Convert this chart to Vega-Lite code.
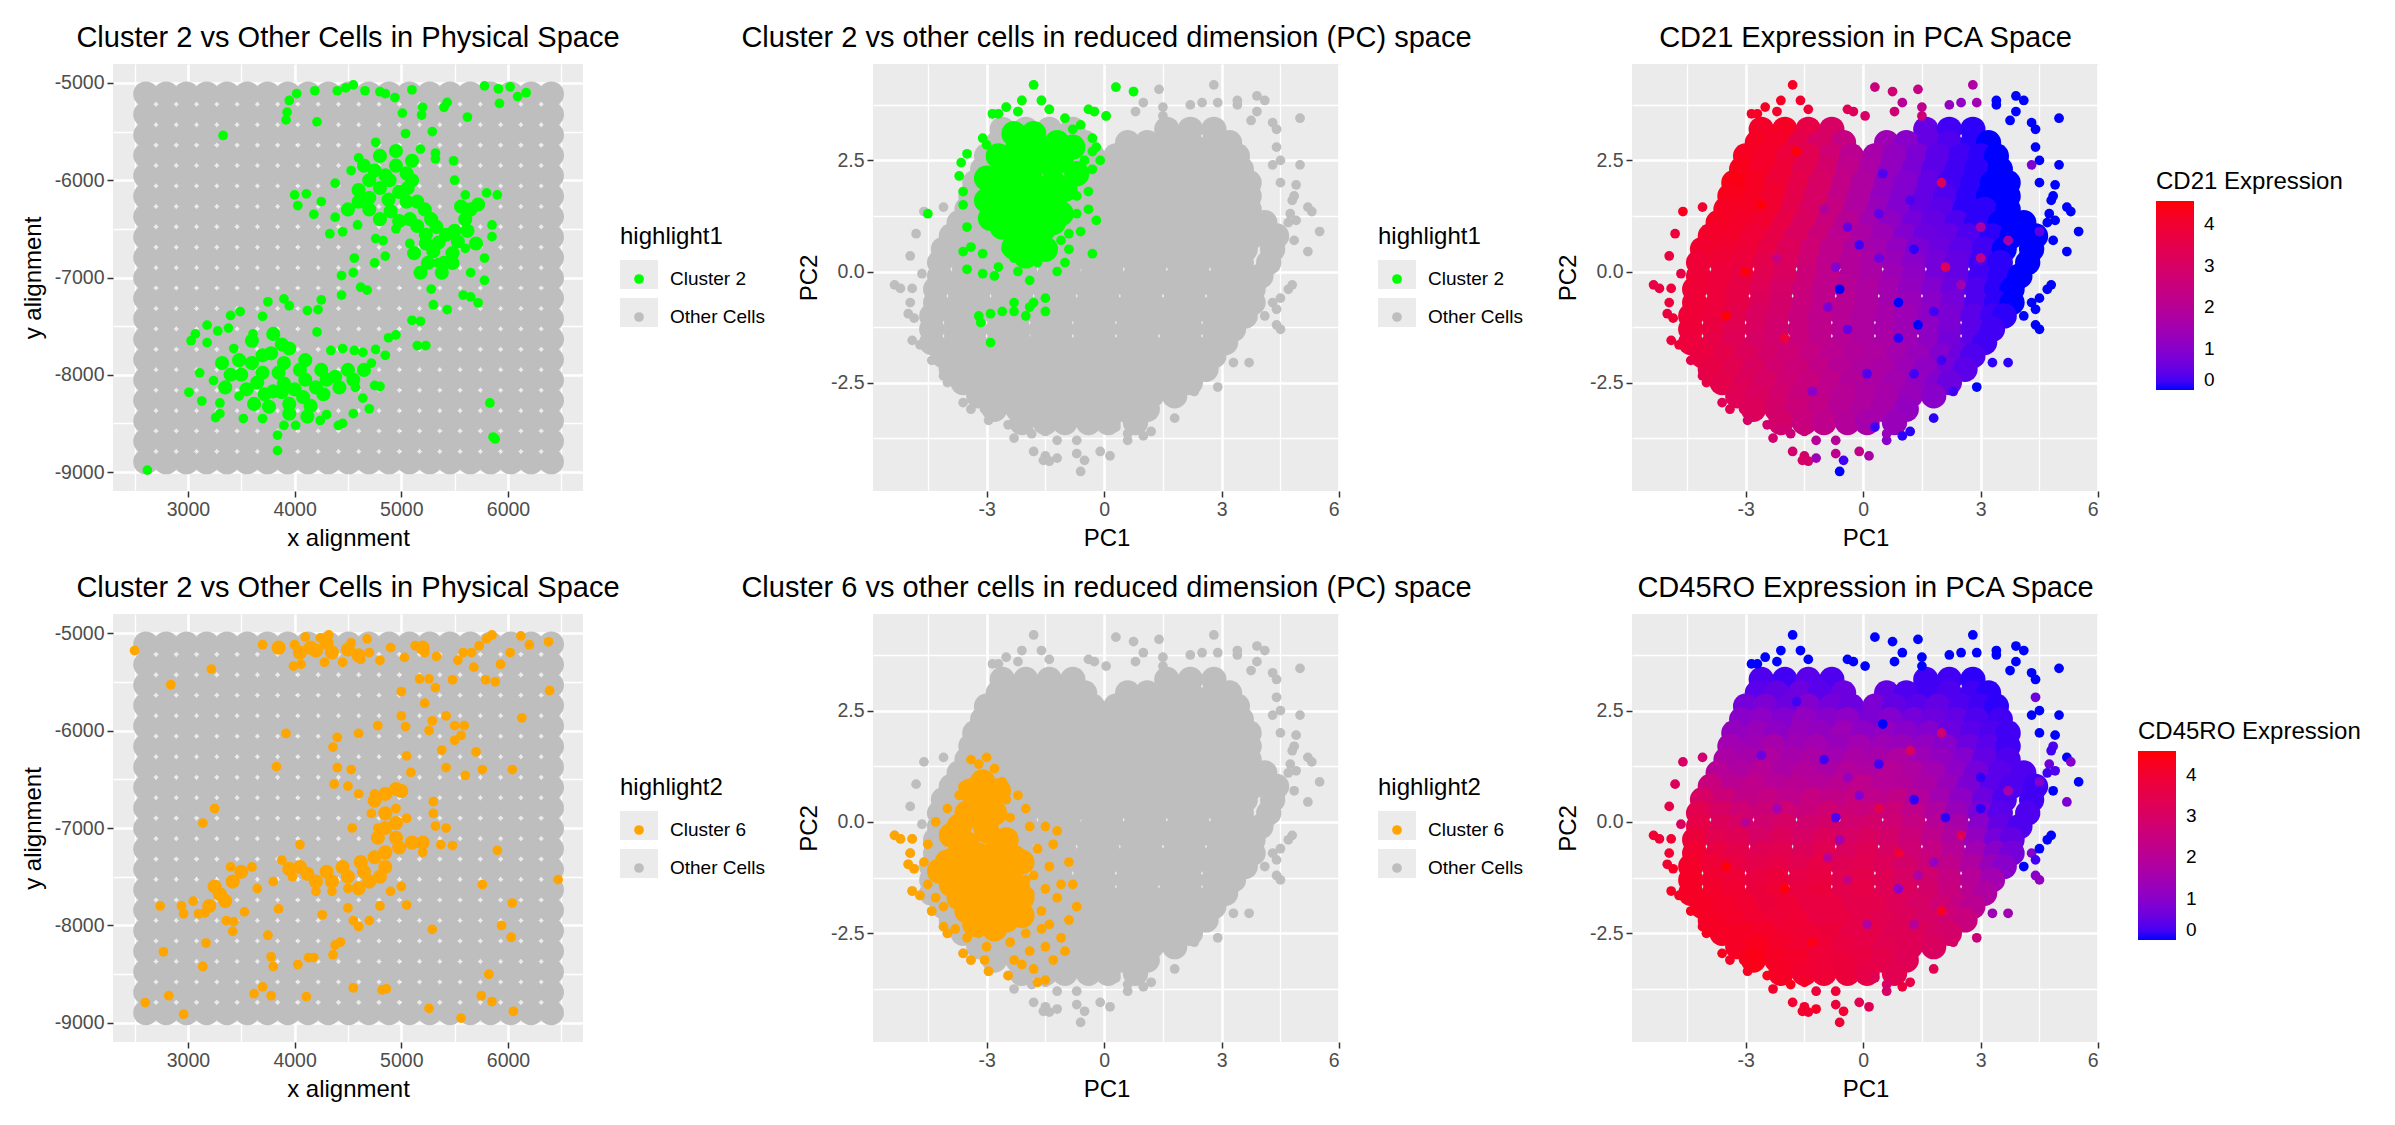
{"$schema":"https://vega.github.io/schema/vega-lite/v6.json","padding":{"left":21,"top":24,"right":0,"bottom":0},"background":"white",
"config":{"view":{"fill":"#ebebeb","stroke":null},"font":"Liberation Sans","title":{"font":"Liberation Sans","fontSize":29,"fontWeight":"normal","color":"black","anchor":"middle","offset":11},"axis":{"labelFont":"Liberation Sans","titleFont":"Liberation Sans","labelFontSize":19.5,"titleFontSize":24,"titleFontWeight":"normal","labelColor":"#4d4d4d","titleColor":"black","tickColor":"#333333","tickSize":6,"tickWidth":1.5,"domain":false,"gridColor":"white","labelPadding":3,"titlePadding":5},"legend":{"labelFont":"Liberation Sans","titleFont":"Liberation Sans","labelFontSize":19,"titleFontSize":24,"titleFontWeight":"normal","labelColor":"black","titleColor":"black","titleLimit":400}},
"datasets":{
"phys":[
{"x":2606,"y":-5114},{"x":2796,"y":-5114},{"x":2986,"y":-5114},{"x":3176,"y":-5114},{"x":3366,"y":-5114},{"x":3556,"y":-5114},{"x":3746,"y":-5114},{"x":3936,"y":-5114},{"x":4126,"y":-5114},{"x":4316,"y":-5114},{"x":4506,"y":-5114},{"x":4696,"y":-5114},{"x":4886,"y":-5114},{"x":5076,"y":-5114},{"x":5266,"y":-5114},{"x":5456,"y":-5114},{"x":5646,"y":-5114},{"x":5836,"y":-5114},{"x":6026,"y":-5114},{"x":6216,"y":-5114},{"x":6406,"y":-5114},
{"x":2606,"y":-5324},{"x":2796,"y":-5324},{"x":2986,"y":-5324},{"x":3176,"y":-5324},{"x":3366,"y":-5324},{"x":3556,"y":-5324},{"x":3746,"y":-5324},{"x":3936,"y":-5324},{"x":4126,"y":-5324},{"x":4316,"y":-5324},{"x":4506,"y":-5324},{"x":4696,"y":-5324},{"x":4886,"y":-5324},{"x":5076,"y":-5324},{"x":5266,"y":-5324},{"x":5456,"y":-5324},{"x":5646,"y":-5324},{"x":5836,"y":-5324},{"x":6026,"y":-5324},{"x":6216,"y":-5324},{"x":6406,"y":-5324},
{"x":2606,"y":-5534},{"x":2796,"y":-5534},{"x":2986,"y":-5534},{"x":3176,"y":-5534},{"x":3366,"y":-5534},{"x":3556,"y":-5534},{"x":3746,"y":-5534},{"x":3936,"y":-5534},{"x":4126,"y":-5534},{"x":4316,"y":-5534},{"x":4506,"y":-5534},{"x":4696,"y":-5534},{"x":4886,"y":-5534},{"x":5076,"y":-5534},{"x":5266,"y":-5534},{"x":5456,"y":-5534},{"x":5646,"y":-5534},{"x":5836,"y":-5534},{"x":6026,"y":-5534},{"x":6216,"y":-5534},{"x":6406,"y":-5534},
{"x":2606,"y":-5744},{"x":2796,"y":-5744},{"x":2986,"y":-5744},{"x":3176,"y":-5744},{"x":3366,"y":-5744},{"x":3556,"y":-5744},{"x":3746,"y":-5744},{"x":3936,"y":-5744},{"x":4126,"y":-5744},{"x":4316,"y":-5744},{"x":4506,"y":-5744},{"x":4696,"y":-5744},{"x":4886,"y":-5744},{"x":5076,"y":-5744},{"x":5266,"y":-5744},{"x":5456,"y":-5744},{"x":5646,"y":-5744},{"x":5836,"y":-5744},{"x":6026,"y":-5744},{"x":6216,"y":-5744},{"x":6406,"y":-5744},
{"x":2606,"y":-5954},{"x":2796,"y":-5954},{"x":2986,"y":-5954},{"x":3176,"y":-5954},{"x":3366,"y":-5954},{"x":3556,"y":-5954},{"x":3746,"y":-5954},{"x":3936,"y":-5954},{"x":4126,"y":-5954},{"x":4316,"y":-5954},{"x":4506,"y":-5954},{"x":4696,"y":-5954},{"x":4886,"y":-5954},{"x":5076,"y":-5954},{"x":5266,"y":-5954},{"x":5456,"y":-5954},{"x":5646,"y":-5954},{"x":5836,"y":-5954},{"x":6026,"y":-5954},{"x":6216,"y":-5954},{"x":6406,"y":-5954},
{"x":2606,"y":-6164},{"x":2796,"y":-6164},{"x":2986,"y":-6164},{"x":3176,"y":-6164},{"x":3366,"y":-6164},{"x":3556,"y":-6164},{"x":3746,"y":-6164},{"x":3936,"y":-6164},{"x":4126,"y":-6164},{"x":4316,"y":-6164},{"x":4506,"y":-6164},{"x":4696,"y":-6164},{"x":4886,"y":-6164},{"x":5076,"y":-6164},{"x":5266,"y":-6164},{"x":5456,"y":-6164},{"x":5646,"y":-6164},{"x":5836,"y":-6164},{"x":6026,"y":-6164},{"x":6216,"y":-6164},{"x":6406,"y":-6164},
{"x":2606,"y":-6374},{"x":2796,"y":-6374},{"x":2986,"y":-6374},{"x":3176,"y":-6374},{"x":3366,"y":-6374},{"x":3556,"y":-6374},{"x":3746,"y":-6374},{"x":3936,"y":-6374},{"x":4126,"y":-6374},{"x":4316,"y":-6374},{"x":4506,"y":-6374},{"x":4696,"y":-6374},{"x":4886,"y":-6374},{"x":5076,"y":-6374},{"x":5266,"y":-6374},{"x":5456,"y":-6374},{"x":5646,"y":-6374},{"x":5836,"y":-6374},{"x":6026,"y":-6374},{"x":6216,"y":-6374},{"x":6406,"y":-6374},
{"x":2606,"y":-6584},{"x":2796,"y":-6584},{"x":2986,"y":-6584},{"x":3176,"y":-6584},{"x":3366,"y":-6584},{"x":3556,"y":-6584},{"x":3746,"y":-6584},{"x":3936,"y":-6584},{"x":4126,"y":-6584},{"x":4316,"y":-6584},{"x":4506,"y":-6584},{"x":4696,"y":-6584},{"x":4886,"y":-6584},{"x":5076,"y":-6584},{"x":5266,"y":-6584},{"x":5456,"y":-6584},{"x":5646,"y":-6584},{"x":5836,"y":-6584},{"x":6026,"y":-6584},{"x":6216,"y":-6584},{"x":6406,"y":-6584},
{"x":2606,"y":-6794},{"x":2796,"y":-6794},{"x":2986,"y":-6794},{"x":3176,"y":-6794},{"x":3366,"y":-6794},{"x":3556,"y":-6794},{"x":3746,"y":-6794},{"x":3936,"y":-6794},{"x":4126,"y":-6794},{"x":4316,"y":-6794},{"x":4506,"y":-6794},{"x":4696,"y":-6794},{"x":4886,"y":-6794},{"x":5076,"y":-6794},{"x":5266,"y":-6794},{"x":5456,"y":-6794},{"x":5646,"y":-6794},{"x":5836,"y":-6794},{"x":6026,"y":-6794},{"x":6216,"y":-6794},{"x":6406,"y":-6794},
{"x":2606,"y":-7004},{"x":2796,"y":-7004},{"x":2986,"y":-7004},{"x":3176,"y":-7004},{"x":3366,"y":-7004},{"x":3556,"y":-7004},{"x":3746,"y":-7004},{"x":3936,"y":-7004},{"x":4126,"y":-7004},{"x":4316,"y":-7004},{"x":4506,"y":-7004},{"x":4696,"y":-7004},{"x":4886,"y":-7004},{"x":5076,"y":-7004},{"x":5266,"y":-7004},{"x":5456,"y":-7004},{"x":5646,"y":-7004},{"x":5836,"y":-7004},{"x":6026,"y":-7004},{"x":6216,"y":-7004},{"x":6406,"y":-7004},
{"x":2606,"y":-7214},{"x":2796,"y":-7214},{"x":2986,"y":-7214},{"x":3176,"y":-7214},{"x":3366,"y":-7214},{"x":3556,"y":-7214},{"x":3746,"y":-7214},{"x":3936,"y":-7214},{"x":4126,"y":-7214},{"x":4316,"y":-7214},{"x":4506,"y":-7214},{"x":4696,"y":-7214},{"x":4886,"y":-7214},{"x":5076,"y":-7214},{"x":5266,"y":-7214},{"x":5456,"y":-7214},{"x":5646,"y":-7214},{"x":5836,"y":-7214},{"x":6026,"y":-7214},{"x":6216,"y":-7214},{"x":6406,"y":-7214},
{"x":2606,"y":-7424},{"x":2796,"y":-7424},{"x":2986,"y":-7424},{"x":3176,"y":-7424},{"x":3366,"y":-7424},{"x":3556,"y":-7424},{"x":3746,"y":-7424},{"x":3936,"y":-7424},{"x":4126,"y":-7424},{"x":4316,"y":-7424},{"x":4506,"y":-7424},{"x":4696,"y":-7424},{"x":4886,"y":-7424},{"x":5076,"y":-7424},{"x":5266,"y":-7424},{"x":5456,"y":-7424},{"x":5646,"y":-7424},{"x":5836,"y":-7424},{"x":6026,"y":-7424},{"x":6216,"y":-7424},{"x":6406,"y":-7424},
{"x":2606,"y":-7634},{"x":2796,"y":-7634},{"x":2986,"y":-7634},{"x":3176,"y":-7634},{"x":3366,"y":-7634},{"x":3556,"y":-7634},{"x":3746,"y":-7634},{"x":3936,"y":-7634},{"x":4126,"y":-7634},{"x":4316,"y":-7634},{"x":4506,"y":-7634},{"x":4696,"y":-7634},{"x":4886,"y":-7634},{"x":5076,"y":-7634},{"x":5266,"y":-7634},{"x":5456,"y":-7634},{"x":5646,"y":-7634},{"x":5836,"y":-7634},{"x":6026,"y":-7634},{"x":6216,"y":-7634},{"x":6406,"y":-7634},
{"x":2606,"y":-7844},{"x":2796,"y":-7844},{"x":2986,"y":-7844},{"x":3176,"y":-7844},{"x":3366,"y":-7844},{"x":3556,"y":-7844},{"x":3746,"y":-7844},{"x":3936,"y":-7844},{"x":4126,"y":-7844},{"x":4316,"y":-7844},{"x":4506,"y":-7844},{"x":4696,"y":-7844},{"x":4886,"y":-7844},{"x":5076,"y":-7844},{"x":5266,"y":-7844},{"x":5456,"y":-7844},{"x":5646,"y":-7844},{"x":5836,"y":-7844},{"x":6026,"y":-7844},{"x":6216,"y":-7844},{"x":6406,"y":-7844},
{"x":2606,"y":-8054},{"x":2796,"y":-8054},{"x":2986,"y":-8054},{"x":3176,"y":-8054},{"x":3366,"y":-8054},{"x":3556,"y":-8054},{"x":3746,"y":-8054},{"x":3936,"y":-8054},{"x":4126,"y":-8054},{"x":4316,"y":-8054},{"x":4506,"y":-8054},{"x":4696,"y":-8054},{"x":4886,"y":-8054},{"x":5076,"y":-8054},{"x":5266,"y":-8054},{"x":5456,"y":-8054},{"x":5646,"y":-8054},{"x":5836,"y":-8054},{"x":6026,"y":-8054},{"x":6216,"y":-8054},{"x":6406,"y":-8054},
{"x":2606,"y":-8264},{"x":2796,"y":-8264},{"x":2986,"y":-8264},{"x":3176,"y":-8264},{"x":3366,"y":-8264},{"x":3556,"y":-8264},{"x":3746,"y":-8264},{"x":3936,"y":-8264},{"x":4126,"y":-8264},{"x":4316,"y":-8264},{"x":4506,"y":-8264},{"x":4696,"y":-8264},{"x":4886,"y":-8264},{"x":5076,"y":-8264},{"x":5266,"y":-8264},{"x":5456,"y":-8264},{"x":5646,"y":-8264},{"x":5836,"y":-8264},{"x":6026,"y":-8264},{"x":6216,"y":-8264},{"x":6406,"y":-8264},
{"x":2606,"y":-8474},{"x":2796,"y":-8474},{"x":2986,"y":-8474},{"x":3176,"y":-8474},{"x":3366,"y":-8474},{"x":3556,"y":-8474},{"x":3746,"y":-8474},{"x":3936,"y":-8474},{"x":4126,"y":-8474},{"x":4316,"y":-8474},{"x":4506,"y":-8474},{"x":4696,"y":-8474},{"x":4886,"y":-8474},{"x":5076,"y":-8474},{"x":5266,"y":-8474},{"x":5456,"y":-8474},{"x":5646,"y":-8474},{"x":5836,"y":-8474},{"x":6026,"y":-8474},{"x":6216,"y":-8474},{"x":6406,"y":-8474},
{"x":2606,"y":-8684},{"x":2796,"y":-8684},{"x":2986,"y":-8684},{"x":3176,"y":-8684},{"x":3366,"y":-8684},{"x":3556,"y":-8684},{"x":3746,"y":-8684},{"x":3936,"y":-8684},{"x":4126,"y":-8684},{"x":4316,"y":-8684},{"x":4506,"y":-8684},{"x":4696,"y":-8684},{"x":4886,"y":-8684},{"x":5076,"y":-8684},{"x":5266,"y":-8684},{"x":5456,"y":-8684},{"x":5646,"y":-8684},{"x":5836,"y":-8684},{"x":6026,"y":-8684},{"x":6216,"y":-8684},{"x":6406,"y":-8684},
{"x":2606,"y":-8894},{"x":2796,"y":-8894},{"x":2986,"y":-8894},{"x":3176,"y":-8894},{"x":3366,"y":-8894},{"x":3556,"y":-8894},{"x":3746,"y":-8894},{"x":3936,"y":-8894},{"x":4126,"y":-8894},{"x":4316,"y":-8894},{"x":4506,"y":-8894},{"x":4696,"y":-8894},{"x":4886,"y":-8894},{"x":5076,"y":-8894},{"x":5266,"y":-8894},{"x":5456,"y":-8894},{"x":5646,"y":-8894},{"x":5836,"y":-8894},{"x":6026,"y":-8894},{"x":6216,"y":-8894},{"x":6406,"y":-8894}],
"g2big":[{"x":4750,"y":-5900},{"x":4950,"y":-5850},{"x":5100,"y":-6000},{"x":4600,"y":-6100},{"x":4800,"y":-6080},{"x":4980,"y":-6120},{"x":5150,"y":-6220},{"x":4500,"y":-6300},{"x":4700,"y":-6300},{"x":4900,"y":-6320},{"x":5080,"y":-6400},{"x":5280,"y":-6400},{"x":5230,"y":-6560},{"x":5420,"y":-6560},{"x":5600,"y":-6400},{"x":5720,"y":-6250},{"x":5300,"y":-6730},{"x":5480,"y":-6750},{"x":5180,"y":-6950},{"x":5380,"y":-6950},{"x":5700,"y":-6650},
{"x":4850,"y":-5950},{"x":5050,"y":-5930},{"x":4700,"y":-6000},{"x":4890,"y":-6000},{"x":5060,"y":-6080},{"x":4700,"y":-6180},{"x":4880,"y":-6200},{"x":5050,"y":-6220},{"x":5220,"y":-6300},{"x":4600,"y":-6220},{"x":4800,"y":-6400},{"x":4980,"y":-6420},{"x":5150,"y":-6470},{"x":5330,"y":-6480},{"x":5500,"y":-6520},{"x":5350,"y":-6640},{"x":5530,"y":-6630},{"x":5620,"y":-6520},{"x":5650,"y":-6300},{"x":5560,"y":-6270},{"x":5230,"y":-6650},{"x":5400,"y":-6850},{"x":5250,"y":-6850},{"x":5120,"y":-6750},{"x":5480,"y":-6850},{"x":4650,"y":-5850},{"x":4800,"y":-5750},{"x":4950,"y":-5700},{"x":5100,"y":-5800},
{"x":3400,"y":-8000},{"x":3600,"y":-7880},{"x":3780,"y":-7780},{"x":3650,"y":-8080},{"x":3850,"y":-7980},{"x":4050,"y":-7950},{"x":4250,"y":-7950},{"x":3800,"y":-8170},{"x":4000,"y":-8150},{"x":4200,"y":-8130},{"x":4380,"y":-8020},{"x":3950,"y":-8300},{"x":4150,"y":-8320},{"x":3600,"y":-7650},{"x":3800,"y":-7580},{"x":4650,"y":-7950},
{"x":3500,"y":-8000},{"x":3700,"y":-7980},{"x":3900,"y":-7880},{"x":4100,"y":-7850},{"x":3550,"y":-8150},{"x":3720,"y":-8200},{"x":3900,"y":-8090},{"x":4100,"y":-8050},{"x":4300,"y":-8050},{"x":3880,"y":-8180},{"x":4080,"y":-8230},{"x":4270,"y":-8200},{"x":3700,"y":-7800},{"x":3480,"y":-7850},{"x":3880,"y":-7690},{"x":3950,"y":-8400},{"x":4120,"y":-8430},{"x":3760,"y":-8330},{"x":3620,"y":-8300},{"x":4500,"y":-7950},{"x":4420,"y":-8130},{"x":3350,"y":-8130},{"x":3320,"y":-7880},{"x":4550,"y":-8050},{"x":3950,"y":-7730}],
"g2":[{"x":3950,"y":-5180},{"x":3930,"y":-5300},{"x":3920,"y":-5380},{"x":4020,"y":-5110},{"x":4190,"y":-5080},{"x":4210,"y":-5400},{"x":4400,"y":-5080},{"x":4480,"y":-5050},{"x":4550,"y":-5020},{"x":4660,"y":-5080},{"x":4800,"y":-5090},{"x":4850,"y":-5110},{"x":4940,"y":-5150},{"x":5100,"y":-5070},{"x":5010,"y":-5310},{"x":5190,"y":-5330},{"x":5200,"y":-5250},{"x":5400,"y":-5250},{"x":5430,"y":-5200},{"x":5040,"y":-5520},{"x":5780,"y":-5030},{"x":5910,"y":-5060},{"x":6020,"y":-5040},{"x":6090,"y":-5140},{"x":6170,"y":-5100},{"x":5920,"y":-5210},{"x":5620,"y":-5350},{"x":5290,"y":-5500},
{"x":3330,"y":-5540},{"x":4760,"y":-5610},{"x":5180,"y":-5680},{"x":5320,"y":-5720},{"x":5490,"y":-5800},{"x":5320,"y":-5780},{"x":4600,"y":-5770},{"x":4530,"y":-5900},{"x":4380,"y":-6030},{"x":4000,"y":-6150},{"x":4110,"y":-6140},{"x":4030,"y":-6260},{"x":4180,"y":-6350},{"x":4250,"y":-6220},{"x":4380,"y":-6380},{"x":4450,"y":-6530},{"x":4330,"y":-6550},{"x":4590,"y":-6460},{"x":4760,"y":-6600},{"x":4830,"y":-6620},{"x":5500,"y":-6000},{"x":5340,"y":-6850},{"x":5800,"y":-6130},{"x":5900,"y":-6150},{"x":5850,"y":-6460},{"x":5850,"y":-6580},{"x":5780,"y":-6800},{"x":5650,"y":-6950},{"x":5780,"y":-7030},{"x":4850,"y":-6780},{"x":4750,"y":-6850},{"x":4560,"y":-6800},{"x":4550,"y":-6950},{"x":4440,"y":-6980},{"x":4620,"y":-7100},{"x":4680,"y":-7130},{"x":4440,"y":-7180},{"x":4250,"y":-7230},{"x":4220,"y":-7330},{"x":4120,"y":-7340},{"x":5280,"y":-7120},{"x":5300,"y":-7280},{"x":5430,"y":-7330},{"x":5650,"y":-7200},{"x":5580,"y":-7180},{"x":5720,"y":-7260},{"x":5100,"y":-7440},{"x":5180,"y":-7450},{"x":5230,"y":-7700},{"x":5150,"y":-7700},{"x":4950,"y":-7590},{"x":4880,"y":-7620},{"x":4850,"y":-7800},{"x":4760,"y":-7740},{"x":4720,"y":-7880},{"x":4800,"y":-8120},{"x":4750,"y":-8110},{"x":4570,"y":-8130},{"x":4640,"y":-8240},{"x":4550,"y":-8400},{"x":4700,"y":-8350},{"x":4450,"y":-8500},{"x":4300,"y":-8410},{"x":4240,"y":-8470},{"x":3700,"y":-8450},{"x":3520,"y":-8450},{"x":3260,"y":-8440},{"x":3130,"y":-8270},{"x":3010,"y":-8180},{"x":3110,"y":-7980},{"x":3240,"y":-8060},{"x":3300,"y":-8290},{"x":3480,"y":-8220},{"x":3750,"y":-7250},{"x":3950,"y":-7290},{"x":3900,"y":-7220},{"x":3490,"y":-7350},{"x":3400,"y":-7390},{"x":3180,"y":-7490},{"x":3070,"y":-7580},{"x":3030,"y":-7650},{"x":3180,"y":-7670},{"x":3280,"y":-7550},{"x":3380,"y":-7520},{"x":3430,"y":-7730},{"x":3610,"y":-7580},{"x":3700,"y":-7400},{"x":4210,"y":-7560},{"x":4340,"y":-7750},{"x":4450,"y":-7730},{"x":4560,"y":-7750},{"x":4640,"y":-7770},{"x":3840,"y":-8620},{"x":3900,"y":-8520},{"x":4010,"y":-8520},{"x":4410,"y":-8520},{"x":5830,"y":-8290},{"x":5860,"y":-8640},{"x":5880,"y":-8660},{"x":2620,"y":-8980},{"x":3840,"y":-8780},{"x":3300,"y":-8400},{"x":5080,"y":-6650},{"x":4950,"y":-6500},{"x":5600,"y":-6700},{"x":5600,"y":-6150}],
"g6big":[{"x":4150,"y":-5150},{"x":4350,"y":-5200},{"x":3850,"y":-5150},{"x":4500,"y":-5170},{"x":4850,"y":-7000},{"x":4850,"y":-6650},{"x":4980,"y":-7200},{"x":5100,"y":-7150},{"x":4850,"y":-7250},{"x":4650,"y":-7450},{"x":4450,"y":-7400},{"x":4300,"y":-7450},{"x":4120,"y":-7470},{"x":4800,"y":-7500},{"x":4600,"y":-7620},{"x":3300,"y":-7680},{"x":3420,"y":-7550},{"x":3200,"y":-7800},
{"x":4950,"y":-6950},{"x":4850,"y":-6850},{"x":4780,"y":-7100},{"x":4950,"y":-7100},{"x":4750,"y":-7300},{"x":4620,"y":-7350},{"x":4500,"y":-7500},{"x":4350,"y":-7550},{"x":4200,"y":-7550},{"x":4050,"y":-7400},{"x":3950,"y":-7420},{"x":4700,"y":-7550},{"x":4850,"y":-7400},{"x":3250,"y":-7600},{"x":3350,"y":-7750},{"x":3500,"y":-7450},{"x":5200,"y":-7150},{"x":4950,"y":-6600},{"x":5000,"y":-6620},{"x":4750,"y":-6720},{"x":4200,"y":-5180},{"x":4050,"y":-5200},{"x":4300,"y":-5100},{"x":4600,"y":-5230},{"x":5200,"y":-5150}],
"g6":[{"x":2500,"y":-5180},{"x":2840,"y":-5530},{"x":3220,"y":-5370},{"x":3700,"y":-5120},{"x":4000,"y":-5120},{"x":4060,"y":-5320},{"x":3990,"y":-5340},{"x":4100,"y":-5040},{"x":4240,"y":-5050},{"x":4280,"y":-5300},{"x":4320,"y":-5020},{"x":4450,"y":-5300},{"x":4530,"y":-5100},{"x":4620,"y":-5270},{"x":4680,"y":-5060},{"x":4700,"y":-5200},{"x":4800,"y":-5280},{"x":4900,"y":-5150},{"x":5030,"y":-5250},{"x":5130,"y":-5130},{"x":5220,"y":-5200},{"x":5330,"y":-5240},{"x":5530,"y":-5280},{"x":5580,"y":-5200},{"x":5660,"y":-5200},{"x":5680,"y":-5350},{"x":5730,"y":-5130},{"x":5800,"y":-5060},{"x":5850,"y":-5020},{"x":5930,"y":-5320},{"x":6020,"y":-5200},{"x":6120,"y":-5030},{"x":6200,"y":-5120},{"x":6380,"y":-5090},{"x":6390,"y":-5590},{"x":6130,"y":-5870},{"x":5170,"y":-5470},{"x":5260,"y":-5470},{"x":5320,"y":-5560},{"x":5480,"y":-5480},{"x":5790,"y":-5480},{"x":5880,"y":-5500},{"x":5000,"y":-5600},{"x":5220,"y":-5720},{"x":5290,"y":-5900},{"x":5420,"y":-5850},{"x":5590,"y":-5950},{"x":5500,"y":-5950},{"x":5260,"y":-6000},{"x":5500,"y":-6100},{"x":5560,"y":-6050},{"x":5380,"y":-6200},{"x":5700,"y":-6220},{"x":5000,"y":-5850},{"x":5040,"y":-5960},{"x":4780,"y":-5950},{"x":4600,"y":-6030},{"x":4400,"y":-6070},{"x":4360,"y":-6170},{"x":3920,"y":-6030},{"x":3830,"y":-6370},{"x":5050,"y":-6260},{"x":5090,"y":-6430},{"x":4530,"y":-6400},{"x":4400,"y":-6380},{"x":4370,"y":-6550},{"x":5420,"y":-6380},{"x":5600,"y":-6460},{"x":5760,"y":-6400},{"x":6040,"y":-6400},{"x":4500,"y":-6570},{"x":4600,"y":-6650},{"x":4750,"y":-6650},{"x":5000,"y":-6600},{"x":5300,"y":-6730},{"x":5300,"y":-6850},{"x":4720,"y":-6850},{"x":4780,"y":-7000},{"x":4950,"y":-6800},{"x":5050,"y":-6900},{"x":5320,"y":-6980},{"x":5420,"y":-7000},{"x":4540,"y":-7000},{"x":5370,"y":-7170},{"x":5480,"y":-7180},{"x":5200,"y":-7250},{"x":4050,"y":-7170},{"x":3250,"y":-6800},{"x":3140,"y":-6950},{"x":5900,"y":-7230},{"x":3600,"y":-7400},{"x":3400,"y":-7400},{"x":3880,"y":-7330},{"x":3980,"y":-7500},{"x":3650,"y":-7620},{"x":3800,"y":-7550},{"x":4200,"y":-7650},{"x":4350,"y":-7650},{"x":4500,"y":-7620},{"x":4900,"y":-7650},{"x":5000,"y":-7600},{"x":3050,"y":-7750},{"x":2940,"y":-7800},{"x":2960,"y":-7880},{"x":3100,"y":-7880},{"x":3160,"y":-7870},{"x":3360,"y":-7950},{"x":3430,"y":-7960},{"x":3530,"y":-7860},{"x":3850,"y":-7830},{"x":4260,"y":-7890},{"x":4500,"y":-7820},{"x":4800,"y":-7800},{"x":4550,"y":-7950},{"x":4700,"y":-7950},{"x":4600,"y":-8010},{"x":5050,"y":-7790},{"x":5760,"y":-7580},{"x":6040,"y":-7770},{"x":6470,"y":-7530},{"x":2740,"y":-7800},{"x":3420,"y":-8060},{"x":3750,"y":-8100},{"x":3170,"y":-8180},{"x":2770,"y":-8270},{"x":3140,"y":-8420},{"x":3780,"y":-8320},{"x":3800,"y":-8420},{"x":4030,"y":-8400},{"x":4130,"y":-8330},{"x":4180,"y":-8330},{"x":4360,"y":-8300},{"x":4380,"y":-8200},{"x":4430,"y":-8170},{"x":5290,"y":-8040},{"x":5940,"y":-8000},{"x":6030,"y":-8120},{"x":3620,"y":-8700},{"x":3700,"y":-8630},{"x":3780,"y":-8720},{"x":4110,"y":-8730},{"x":4550,"y":-8640},{"x":4820,"y":-8660},{"x":4860,"y":-8650},{"x":2600,"y":-8790},{"x":2820,"y":-8720},{"x":2960,"y":-8910},{"x":5820,"y":-8500},{"x":5750,"y":-8720},{"x":5850,"y":-8780},{"x":6050,"y":-8880},{"x":5560,"y":-8950},{"x":5260,"y":-8850}],
"pc":[
{"x":-2.6,"y":3.2,"c21":4.1,"c45":0.3},{"x":-2,"y":3.2,"c21":4.2,"c45":0.2},{"x":-1.4,"y":3.2,"c21":3.6,"c45":0.4},{"x":-0.8,"y":3.2,"c21":3,"c45":0.3},{"x":1.6,"y":3.2,"c21":0.5,"c45":0.2},{"x":2.2,"y":3.2,"c21":0.2,"c45":0.2},{"x":2.8,"y":3.2,"c21":0.1,"c45":0.1},
{"x":-2.7,"y":2.9,"c21":4.2,"c45":0.4},{"x":-2.2,"y":2.9,"c21":4.1,"c45":0.5},{"x":-1.6,"y":2.9,"c21":3.5,"c45":0.6},{"x":-1.1,"y":2.9,"c21":3,"c45":0.4},{"x":-0.5,"y":2.9,"c21":2.4,"c45":0.6},{"x":0.6,"y":2.9,"c21":1.4,"c45":0.5},{"x":1.1,"y":2.9,"c21":1,"c45":0.3},{"x":1.7,"y":2.9,"c21":0.5,"c45":0.2},{"x":2.2,"y":2.9,"c21":0.3,"c45":0.3},{"x":2.8,"y":2.9,"c21":0.1,"c45":0.2},{"x":3.2,"y":2.9,"c21":0,"c45":0.1},
{"x":-3,"y":2.6,"c21":4.2,"c45":0.7},{"x":-2.5,"y":2.6,"c21":4.1,"c45":0.8},{"x":-1.9,"y":2.6,"c21":3.8,"c45":0.6},{"x":-1.4,"y":2.6,"c21":3.4,"c45":0.9},{"x":-0.8,"y":2.6,"c21":2.7,"c45":0.7},{"x":-0.3,"y":2.6,"c21":2.1,"c45":0.6},{"x":0.3,"y":2.6,"c21":1.6,"c45":0.8},{"x":0.8,"y":2.6,"c21":1.2,"c45":0.5},{"x":1.4,"y":2.6,"c21":0.8,"c45":0.4},{"x":1.9,"y":2.6,"c21":0.4,"c45":0.5},{"x":2.5,"y":2.6,"c21":0.2,"c45":0.3},{"x":3,"y":2.6,"c21":0.1,"c45":0.2},{"x":3.4,"y":2.6,"c21":0,"c45":0.1},
{"x":-3.1,"y":2.3,"c21":4.3,"c45":1},{"x":-2.6,"y":2.3,"c21":4.1,"c45":1.1},{"x":-2,"y":2.3,"c21":3.9,"c45":0.9},{"x":-1.5,"y":2.3,"c21":3.4,"c45":1.2},{"x":-0.9,"y":2.3,"c21":2.9,"c45":1},{"x":-0.4,"y":2.3,"c21":2.2,"c45":1.1},{"x":0.2,"y":2.3,"c21":1.7,"c45":0.8},{"x":0.7,"y":2.3,"c21":1.2,"c45":0.9},{"x":1.3,"y":2.3,"c21":0.8,"c45":0.7},{"x":1.8,"y":2.3,"c21":0.4,"c45":0.6},{"x":2.4,"y":2.3,"c21":0.2,"c45":0.5},{"x":2.9,"y":2.3,"c21":0.1,"c45":0.3},{"x":3.5,"y":2.3,"c21":0,"c45":0.2},
{"x":-3.3,"y":2,"c21":4.4,"c45":1.2},{"x":-2.7,"y":2,"c21":4.2,"c45":1.3},{"x":-2.2,"y":2,"c21":3.9,"c45":1.1},{"x":-1.6,"y":2,"c21":3.5,"c45":1.3},{"x":-1.1,"y":2,"c21":3,"c45":1.2},{"x":-0.5,"y":2,"c21":2.3,"c45":1.4},{"x":0,"y":2,"c21":1.8,"c45":1.1},{"x":0.6,"y":2,"c21":1.2,"c45":1.2},{"x":1.1,"y":2,"c21":0.9,"c45":1},{"x":1.7,"y":2,"c21":0.5,"c45":0.9},{"x":2.2,"y":2,"c21":0.2,"c45":0.6},{"x":2.8,"y":2,"c21":0.1,"c45":0.4},{"x":3.3,"y":2,"c21":0,"c45":0.3},{"x":3.7,"y":2,"c21":0,"c45":0.2},
{"x":-3.4,"y":1.7,"c21":4.3,"c45":1.5},{"x":-2.8,"y":1.7,"c21":4.2,"c45":1.4},{"x":-2.3,"y":1.7,"c21":4,"c45":1.6},{"x":-1.7,"y":1.7,"c21":3.5,"c45":1.4},{"x":-1.2,"y":1.7,"c21":3,"c45":1.5},{"x":-0.6,"y":1.7,"c21":2.3,"c45":1.3},{"x":-0.1,"y":1.7,"c21":1.8,"c45":1.5},{"x":0.5,"y":1.7,"c21":1.2,"c45":1.4},{"x":1,"y":1.7,"c21":0.9,"c45":1.3},{"x":1.6,"y":1.7,"c21":0.5,"c45":1.2},{"x":2.1,"y":1.7,"c21":0.3,"c45":1},{"x":2.7,"y":1.7,"c21":0.1,"c45":0.6},{"x":3.2,"y":1.7,"c21":0,"c45":0.4},{"x":3.7,"y":1.7,"c21":0,"c45":0.2},
{"x":-3.5,"y":1.4,"c21":4.2,"c45":1.7},{"x":-2.9,"y":1.4,"c21":4.2,"c45":1.6},{"x":-2.4,"y":1.4,"c21":4,"c45":1.8},{"x":-1.8,"y":1.4,"c21":3.5,"c45":1.6},{"x":-1.3,"y":1.4,"c21":3,"c45":1.7},{"x":-0.7,"y":1.4,"c21":2.4,"c45":1.5},{"x":-0.2,"y":1.4,"c21":1.8,"c45":1.7},{"x":0.4,"y":1.4,"c21":1.3,"c45":1.6},{"x":0.9,"y":1.4,"c21":0.9,"c45":1.8},{"x":1.5,"y":1.4,"c21":0.5,"c45":1.4},{"x":2,"y":1.4,"c21":0.4,"c45":1.2},{"x":2.6,"y":1.4,"c21":0.1,"c45":0.9},{"x":3.1,"y":1.4,"c21":0.1,"c45":0.5},{"x":3.7,"y":1.4,"c21":0,"c45":0.3},
{"x":-3.7,"y":1.1,"c21":4.2,"c45":2},{"x":-3.1,"y":1.1,"c21":4.1,"c45":1.8},{"x":-2.6,"y":1.1,"c21":4,"c45":2},{"x":-2,"y":1.1,"c21":3.6,"c45":1.7},{"x":-1.5,"y":1.1,"c21":3.1,"c45":1.9},{"x":-0.9,"y":1.1,"c21":2.5,"c45":1.7},{"x":-0.4,"y":1.1,"c21":2,"c45":1.9},{"x":0.2,"y":1.1,"c21":1.5,"c45":1.8},{"x":0.7,"y":1.1,"c21":1.1,"c45":2},{"x":1.3,"y":1.1,"c21":0.7,"c45":1.8},{"x":1.8,"y":1.1,"c21":0.5,"c45":1.5},{"x":2.4,"y":1.1,"c21":0.3,"c45":1.1},{"x":2.9,"y":1.1,"c21":0.1,"c45":0.7},{"x":3.5,"y":1.1,"c21":0,"c45":0.4},{"x":4.1,"y":1.1,"c21":0,"c45":0.3},
{"x":-3.9,"y":0.8,"c21":4.1,"c45":2.5},{"x":-3.3,"y":0.8,"c21":4.1,"c45":2.1},{"x":-2.8,"y":0.8,"c21":3.9,"c45":2.2},{"x":-2.2,"y":0.8,"c21":3.6,"c45":2},{"x":-1.7,"y":0.8,"c21":3.1,"c45":2.1},{"x":-1.1,"y":0.8,"c21":2.6,"c45":2},{"x":-0.6,"y":0.8,"c21":2.1,"c45":2.1},{"x":0,"y":0.8,"c21":1.7,"c45":2.2},{"x":0.5,"y":0.8,"c21":1.4,"c45":2},{"x":1.1,"y":0.8,"c21":0.9,"c45":1.9},{"x":1.6,"y":0.8,"c21":0.6,"c45":1.7},{"x":2.2,"y":0.8,"c21":0.5,"c45":1.3},{"x":2.7,"y":0.8,"c21":0.3,"c45":0.8},{"x":3.3,"y":0.8,"c21":0.1,"c45":0.4},{"x":3.8,"y":0.8,"c21":0,"c45":0.3},{"x":4.4,"y":0.8,"c21":0,"c45":0.2},
{"x":-4.1,"y":0.5,"c21":4,"c45":3},{"x":-3.5,"y":0.5,"c21":4,"c45":2.6},{"x":-3,"y":0.5,"c21":3.9,"c45":2.3},{"x":-2.4,"y":0.5,"c21":3.6,"c45":2.4},{"x":-1.9,"y":0.5,"c21":3.2,"c45":2.2},{"x":-1.3,"y":0.5,"c21":2.7,"c45":2.4},{"x":-0.8,"y":0.5,"c21":2.2,"c45":2.3},{"x":-0.2,"y":0.5,"c21":1.8,"c45":2.4},{"x":0.3,"y":0.5,"c21":1.5,"c45":2.2},{"x":0.9,"y":0.5,"c21":1.2,"c45":2.3},{"x":1.4,"y":0.5,"c21":0.8,"c45":1.9},{"x":2,"y":0.5,"c21":0.6,"c45":1.5},{"x":2.5,"y":0.5,"c21":0.4,"c45":1.1},{"x":3.1,"y":0.5,"c21":0.2,"c45":0.6},{"x":3.6,"y":0.5,"c21":0,"c45":0.3},{"x":4.3,"y":0.5,"c21":0,"c45":0.2},
{"x":-4.2,"y":0.2,"c21":3.9,"c45":3.4},{"x":-3.6,"y":0.2,"c21":3.9,"c45":3},{"x":-3.1,"y":0.2,"c21":3.8,"c45":2.7},{"x":-2.5,"y":0.2,"c21":3.5,"c45":2.6},{"x":-2,"y":0.2,"c21":3.2,"c45":2.7},{"x":-1.4,"y":0.2,"c21":2.7,"c45":2.5},{"x":-0.9,"y":0.2,"c21":2.2,"c45":2.7},{"x":-0.3,"y":0.2,"c21":1.9,"c45":2.6},{"x":0.2,"y":0.2,"c21":1.7,"c45":2.5},{"x":0.8,"y":0.2,"c21":1.3,"c45":2.6},{"x":1.3,"y":0.2,"c21":1,"c45":2.2},{"x":1.9,"y":0.2,"c21":0.7,"c45":1.8},{"x":2.4,"y":0.2,"c21":0.5,"c45":1.3},{"x":3,"y":0.2,"c21":0.2,"c45":0.8},{"x":3.5,"y":0.2,"c21":0.1,"c45":0.4},{"x":4.2,"y":0.2,"c21":0,"c45":0.3},
{"x":-4.2,"y":-0.1,"c21":3.9,"c45":3.6},{"x":-3.6,"y":-0.1,"c21":3.8,"c45":3.2},{"x":-3.1,"y":-0.1,"c21":3.7,"c45":3},{"x":-2.5,"y":-0.1,"c21":3.4,"c45":2.8},{"x":-2,"y":-0.1,"c21":3.1,"c45":3},{"x":-1.4,"y":-0.1,"c21":2.6,"c45":2.8},{"x":-0.9,"y":-0.1,"c21":2.2,"c45":2.9},{"x":-0.3,"y":-0.1,"c21":1.9,"c45":2.8},{"x":0.2,"y":-0.1,"c21":1.7,"c45":2.9},{"x":0.8,"y":-0.1,"c21":1.4,"c45":2.7},{"x":1.3,"y":-0.1,"c21":1.1,"c45":2.4},{"x":1.9,"y":-0.1,"c21":0.7,"c45":2},{"x":2.4,"y":-0.1,"c21":0.5,"c45":1.6},{"x":3,"y":-0.1,"c21":0.2,"c45":1},{"x":3.5,"y":-0.1,"c21":0.1,"c45":0.5},{"x":4,"y":-0.1,"c21":0,"c45":0.3},
{"x":-4.3,"y":-0.4,"c21":3.9,"c45":3.8},{"x":-3.7,"y":-0.4,"c21":3.8,"c45":3.4},{"x":-3.2,"y":-0.4,"c21":3.6,"c45":3.3},{"x":-2.6,"y":-0.4,"c21":3.3,"c45":3},{"x":-2.1,"y":-0.4,"c21":3,"c45":3.2},{"x":-1.5,"y":-0.4,"c21":2.6,"c45":3},{"x":-1,"y":-0.4,"c21":2.2,"c45":3.2},{"x":-0.4,"y":-0.4,"c21":2,"c45":3},{"x":0.1,"y":-0.4,"c21":1.8,"c45":3.1},{"x":0.7,"y":-0.4,"c21":1.5,"c45":2.9},{"x":1.2,"y":-0.4,"c21":1.2,"c45":2.6},{"x":1.8,"y":-0.4,"c21":0.9,"c45":2.2},{"x":2.3,"y":-0.4,"c21":0.6,"c45":1.8},{"x":2.9,"y":-0.4,"c21":0.3,"c45":1.2},{"x":3.4,"y":-0.4,"c21":0.1,"c45":0.7},{"x":3.8,"y":-0.4,"c21":0,"c45":0.5},
{"x":-4.3,"y":-0.7,"c21":3.9,"c45":4},{"x":-3.7,"y":-0.7,"c21":3.8,"c45":3.7},{"x":-3.2,"y":-0.7,"c21":3.6,"c45":3.5},{"x":-2.6,"y":-0.7,"c21":3.2,"c45":3.3},{"x":-2.1,"y":-0.7,"c21":2.9,"c45":3.4},{"x":-1.5,"y":-0.7,"c21":2.5,"c45":3.2},{"x":-1,"y":-0.7,"c21":2.2,"c45":3.4},{"x":-0.4,"y":-0.7,"c21":2,"c45":3.1},{"x":0.1,"y":-0.7,"c21":1.8,"c45":3.3},{"x":0.7,"y":-0.7,"c21":1.5,"c45":3},{"x":1.2,"y":-0.7,"c21":1.3,"c45":2.7},{"x":1.8,"y":-0.7,"c21":1,"c45":2.4},{"x":2.3,"y":-0.7,"c21":0.7,"c45":2},{"x":2.9,"y":-0.7,"c21":0.3,"c45":1.5},{"x":3.4,"y":-0.7,"c21":0.1,"c45":1},{"x":3.8,"y":-0.7,"c21":0,"c45":0.7},
{"x":-4.4,"y":-1,"c21":3.9,"c45":4.1},{"x":-3.8,"y":-1,"c21":3.8,"c45":3.9},{"x":-3.3,"y":-1,"c21":3.5,"c45":3.7},{"x":-2.7,"y":-1,"c21":3.1,"c45":3.5},{"x":-2.2,"y":-1,"c21":2.9,"c45":3.6},{"x":-1.6,"y":-1,"c21":2.5,"c45":3.4},{"x":-1.1,"y":-1,"c21":2.2,"c45":3.6},{"x":-0.5,"y":-1,"c21":2,"c45":3.3},{"x":0,"y":-1,"c21":1.8,"c45":3.4},{"x":0.6,"y":-1,"c21":1.6,"c45":3.2},{"x":1.1,"y":-1,"c21":1.4,"c45":2.9},{"x":1.7,"y":-1,"c21":1.1,"c45":2.6},{"x":2.2,"y":-1,"c21":0.8,"c45":2.2},{"x":2.8,"y":-1,"c21":0.4,"c45":1.8},{"x":3.3,"y":-1,"c21":0.2,"c45":1.3},{"x":3.6,"y":-1,"c21":0.1,"c45":1},
{"x":-4.4,"y":-1.3,"c21":3.9,"c45":4.2},{"x":-3.8,"y":-1.3,"c21":3.7,"c45":4},{"x":-3.3,"y":-1.3,"c21":3.4,"c45":3.9},{"x":-2.7,"y":-1.3,"c21":3.1,"c45":3.7},{"x":-2.2,"y":-1.3,"c21":2.8,"c45":3.8},{"x":-1.6,"y":-1.3,"c21":2.5,"c45":3.6},{"x":-1.1,"y":-1.3,"c21":2.2,"c45":3.7},{"x":-0.5,"y":-1.3,"c21":2,"c45":3.4},{"x":0,"y":-1.3,"c21":1.8,"c45":3.5},{"x":0.6,"y":-1.3,"c21":1.6,"c45":3.3},{"x":1.1,"y":-1.3,"c21":1.4,"c45":3},{"x":1.7,"y":-1.3,"c21":1.1,"c45":2.8},{"x":2.2,"y":-1.3,"c21":0.8,"c45":2.4},{"x":2.8,"y":-1.3,"c21":0.4,"c45":2},{"x":3.3,"y":-1.3,"c21":0.2,"c45":1.5},
{"x":-4.4,"y":-1.6,"c21":3.8,"c45":4.2},{"x":-3.8,"y":-1.6,"c21":3.6,"c45":4.1},{"x":-3.3,"y":-1.6,"c21":3.3,"c45":4},{"x":-2.7,"y":-1.6,"c21":3,"c45":3.8},{"x":-2.2,"y":-1.6,"c21":2.8,"c45":3.9},{"x":-1.6,"y":-1.6,"c21":2.5,"c45":3.7},{"x":-1.1,"y":-1.6,"c21":2.2,"c45":3.8},{"x":-0.5,"y":-1.6,"c21":2,"c45":3.5},{"x":0,"y":-1.6,"c21":1.8,"c45":3.6},{"x":0.6,"y":-1.6,"c21":1.7,"c45":3.3},{"x":1.1,"y":-1.6,"c21":1.4,"c45":3.1},{"x":1.7,"y":-1.6,"c21":1.1,"c45":2.9},{"x":2.2,"y":-1.6,"c21":0.7,"c45":2.5},{"x":2.8,"y":-1.6,"c21":0.4,"c45":2.1},{"x":3.1,"y":-1.6,"c21":0.2,"c45":1.8},
{"x":-4.1,"y":-1.9,"c21":3.7,"c45":4.2},{"x":-3.5,"y":-1.9,"c21":3.5,"c45":4.1},{"x":-3,"y":-1.9,"c21":3.2,"c45":4},{"x":-2.4,"y":-1.9,"c21":2.9,"c45":3.8},{"x":-1.9,"y":-1.9,"c21":2.7,"c45":3.9},{"x":-1.3,"y":-1.9,"c21":2.4,"c45":3.7},{"x":-0.8,"y":-1.9,"c21":2.1,"c45":3.7},{"x":-0.2,"y":-1.9,"c21":1.9,"c45":3.5},{"x":0.3,"y":-1.9,"c21":1.8,"c45":3.5},{"x":0.9,"y":-1.9,"c21":1.5,"c45":3.2},{"x":1.4,"y":-1.9,"c21":1.3,"c45":3},{"x":2,"y":-1.9,"c21":0.9,"c45":2.7},{"x":2.5,"y":-1.9,"c21":0.6,"c45":2.4},{"x":2.8,"y":-1.9,"c21":0.3,"c45":2.1},
{"x":-3.9,"y":-2.2,"c21":3.6,"c45":4.2},{"x":-3.3,"y":-2.2,"c21":3.4,"c45":4.1},{"x":-2.8,"y":-2.2,"c21":3.1,"c45":4},{"x":-2.2,"y":-2.2,"c21":2.8,"c45":3.9},{"x":-1.7,"y":-2.2,"c21":2.6,"c45":3.9},{"x":-1.1,"y":-2.2,"c21":2.3,"c45":3.7},{"x":-0.6,"y":-2.2,"c21":2,"c45":3.7},{"x":0,"y":-2.2,"c21":1.8,"c45":3.5},{"x":0.5,"y":-2.2,"c21":1.7,"c45":3.4},{"x":1.1,"y":-2.2,"c21":1.4,"c45":3.2},{"x":1.6,"y":-2.2,"c21":1.1,"c45":3},{"x":2.2,"y":-2.2,"c21":0.7,"c45":2.7},{"x":2.6,"y":-2.2,"c21":0.4,"c45":2.5},
{"x":-3.6,"y":-2.5,"c21":3.5,"c45":4.2},{"x":-3,"y":-2.5,"c21":3.2,"c45":4.2},{"x":-2.5,"y":-2.5,"c21":3,"c45":4.1},{"x":-1.9,"y":-2.5,"c21":2.7,"c45":4},{"x":-1.4,"y":-2.5,"c21":2.5,"c45":3.9},{"x":-0.8,"y":-2.5,"c21":2.2,"c45":3.8},{"x":-0.3,"y":-2.5,"c21":1.9,"c45":3.6},{"x":0.3,"y":-2.5,"c21":1.7,"c45":3.5},{"x":0.8,"y":-2.5,"c21":1.5,"c45":3.3},{"x":1.4,"y":-2.5,"c21":1.2,"c45":3.2},{"x":1.9,"y":-2.5,"c21":0.9,"c45":3},{"x":2.2,"y":-2.5,"c21":0.6,"c45":2.9},
{"x":-3.2,"y":-2.8,"c21":3.3,"c45":4.2},{"x":-2.7,"y":-2.8,"c21":3.1,"c45":4.3},{"x":-2.1,"y":-2.8,"c21":2.8,"c45":4.1},{"x":-1.6,"y":-2.8,"c21":2.5,"c45":4},{"x":-1,"y":-2.8,"c21":2.2,"c45":3.9},{"x":-0.5,"y":-2.8,"c21":2,"c45":3.7},{"x":0.1,"y":-2.8,"c21":1.8,"c45":3.6},{"x":0.6,"y":-2.8,"c21":1.6,"c45":3.4},{"x":1.2,"y":-2.8,"c21":1.3,"c45":3.3},{"x":1.8,"y":-2.8,"c21":1,"c45":3.1},
{"x":-2.8,"y":-3.1,"c21":3.2,"c45":4.4},{"x":-2.2,"y":-3.1,"c21":2.9,"c45":4.2},{"x":-1.7,"y":-3.1,"c21":2.6,"c45":4.1},{"x":-1.1,"y":-3.1,"c21":2.3,"c45":3.9},{"x":-0.6,"y":-3.1,"c21":2,"c45":3.8},{"x":0,"y":-3.1,"c21":1.8,"c45":3.7},{"x":0.5,"y":-3.1,"c21":1.6,"c45":3.5},{"x":1.1,"y":-3.1,"c21":1.2,"c45":3.3},
{"x":-2.1,"y":-3.4,"c21":2.9,"c45":4.2},{"x":-1.5,"y":-3.4,"c21":2.5,"c45":4},{"x":-1,"y":-3.4,"c21":2.2,"c45":3.9},{"x":-0.4,"y":-3.4,"c21":1.9,"c45":3.8},{"x":0.1,"y":-3.4,"c21":1.6,"c45":3.6},{"x":0.8,"y":-3.4,"c21":1.3,"c45":3.4}],
"pcs":[{"x":-1.8,"y":4.2,"c21":4.2,"c45":0},{"x":0.3,"y":4.15,"c21":2.5,"c45":0},{"x":0.75,"y":4.05,"c21":2.7,"c45":0},{"x":1.4,"y":4.1,"c21":2.4,"c45":0},{"x":2.8,"y":4.2,"c21":1.8,"c45":0},{"x":3.9,"y":3.95,"c21":0,"c45":0},{"x":4.1,"y":3.85,"c21":0,"c45":0},{"x":5,"y":3.45,"c21":0,"c45":0},{"x":-2.1,"y":3.85,"c21":4.2,"c45":0},{"x":-1.6,"y":3.85,"c21":4,"c45":0},{"x":-2.5,"y":3.7,"c21":4.2,"c45":0},{"x":-2.2,"y":3.6,"c21":4.1,"c45":0},{"x":-1.4,"y":3.65,"c21":3.9,"c45":0},{"x":-2.85,"y":3.55,"c21":4.1,"c45":0},{"x":-2.7,"y":3.55,"c21":4.2,"c45":0},{"x":-0.4,"y":3.65,"c21":3.4,"c45":0},{"x":-0.25,"y":3.6,"c21":3.2,"c45":0},{"x":0.05,"y":3.5,"c21":3,"c45":0},{"x":0.8,"y":3.6,"c21":2.7,"c45":0},{"x":1,"y":3.8,"c21":2,"c45":0},{"x":1.5,"y":3.7,"c21":2.2,"c45":0},{"x":1.5,"y":3.5,"c21":2.6,"c45":0},{"x":2.2,"y":3.75,"c21":1.2,"c45":0},{"x":2.5,"y":3.8,"c21":1.1,"c45":0},{"x":2.9,"y":3.8,"c21":1.5,"c45":0},{"x":3.4,"y":3.85,"c21":0,"c45":0},{"x":3.4,"y":3.75,"c21":0,"c45":0},{"x":3.9,"y":3.6,"c21":0,"c45":0},{"x":4.3,"y":3.35,"c21":0,"c45":0},{"x":4.4,"y":3.2,"c21":0,"c45":0},{"x":3.75,"y":3.4,"c21":0,"c45":0},{"x":4.4,"y":2.8,"c21":0,"c45":0.6},{"x":4.5,"y":2.5,"c21":0,"c45":0},{"x":5,"y":2.4,"c21":0,"c45":0},{"x":4.3,"y":2.4,"c21":0.8,"c45":0},{"x":4.5,"y":2,"c21":0,"c45":0},{"x":4.9,"y":1.95,"c21":0,"c45":0},{"x":4.85,"y":1.7,"c21":0,"c45":0.3},{"x":4.8,"y":1.6,"c21":0,"c45":0.2},{"x":5.2,"y":1.45,"c21":0,"c45":0},{"x":5.3,"y":1.35,"c21":0,"c45":0.9},{"x":4.75,"y":1.3,"c21":0,"c45":0.6},{"x":5.5,"y":0.9,"c21":0,"c45":0},{"x":5.2,"y":0.45,"c21":0,"c45":0.8},{"x":4.85,"y":0.7,"c21":0,"c45":0},{"x":4.5,"y":0.9,"c21":0.4,"c45":0.9},{"x":4.7,"y":1.1,"c21":0,"c45":0.2},{"x":4.9,"y":1.15,"c21":0,"c45":0.3},{"x":4.8,"y":-0.3,"c21":0,"c45":0},{"x":4.7,"y":-0.4,"c21":0,"c45":0},{"x":4.3,"y":-0.7,"c21":0,"c45":0.9},{"x":4.5,"y":-0.6,"c21":0,"c45":0},{"x":4.4,"y":-0.85,"c21":0,"c45":0.2},{"x":4.1,"y":-1,"c21":0,"c45":0},{"x":4.4,"y":-1.2,"c21":0,"c45":1},{"x":4.5,"y":-1.3,"c21":0,"c45":1.2},{"x":3.7,"y":-2.05,"c21":0.1,"c45":1.5},{"x":3.3,"y":-2.05,"c21":0.1,"c45":1.4},{"x":2.9,"y":-2.6,"c21":0,"c45":2.6},{"x":2.3,"y":-2.7,"c21":0.2,"c45":3},{"x":1.8,"y":-3.3,"c21":0.1,"c45":3.4},{"x":-4.6,"y":1.35,"c21":4.3,"c45":3},{"x":-4.1,"y":1.45,"c21":4,"c45":2.8},{"x":-4.8,"y":0.85,"c21":3.8,"c45":3.2},{"x":-4.95,"y":0.35,"c21":3.7,"c45":3.6},{"x":-4.65,"y":-0.05,"c21":3.6,"c45":3.1},{"x":-5.35,"y":-0.3,"c21":3.6,"c45":4},{"x":-5.2,"y":-0.38,"c21":3.7,"c45":3.9},{"x":-4.9,"y":-0.38,"c21":3.8,"c45":4},{"x":-4.95,"y":-0.7,"c21":3.8,"c45":4},{"x":-5,"y":-0.95,"c21":3.7,"c45":4},{"x":-4.85,"y":-1.05,"c21":3.9,"c45":4.2},{"x":-4.9,"y":-1.55,"c21":3.8,"c45":4.2},{"x":-4.7,"y":-1.65,"c21":3.9,"c45":4.2},{"x":-4.4,"y":-2,"c21":3.6,"c45":4.3},{"x":-4.1,"y":-2.35,"c21":3.5,"c45":4.2},{"x":-4,"y":-2.5,"c21":3.6,"c45":4.3},{"x":-3.6,"y":-2.95,"c21":3.3,"c45":4.3},{"x":-3.4,"y":-3.1,"c21":3.4,"c45":4.2},{"x":-3.05,"y":-3.1,"c21":3.2,"c45":4.3},{"x":-2.95,"y":-3.35,"c21":3,"c45":4.2},{"x":-2.45,"y":-3.45,"c21":2.8,"c45":4.3},{"x":-2.1,"y":-3.55,"c21":2.7,"c45":4.2},{"x":-2.3,"y":-3.75,"c21":2.8,"c45":4.1},{"x":-1.85,"y":-3.65,"c21":2.6,"c45":4.3},{"x":-1.8,"y":-4.05,"c21":2.8,"c45":4},{"x":-1.5,"y":-3.6,"c21":2.6,"c45":4.2},{"x":-1.2,"y":-3.8,"c21":2,"c45":3.8},{"x":-1.5,"y":-4.15,"c21":2.9,"c45":4.1},{"x":-1.55,"y":-4.25,"c21":3,"c45":4.1},{"x":-1.4,"y":-4.27,"c21":2.9,"c45":4},{"x":-1.2,"y":-4.2,"c21":1.4,"c45":4.2},{"x":-0.7,"y":-3.8,"c21":2,"c45":3.9},{"x":-0.7,"y":-4.1,"c21":2.2,"c45":3.8},{"x":-0.5,"y":-4.25,"c21":0.2,"c45":4},{"x":-0.6,"y":-4.5,"c21":0,"c45":3.9},{"x":-0.1,"y":-4.05,"c21":2.3,"c45":3.4},{"x":0.15,"y":-4.15,"c21":1.7,"c45":3.3},{"x":0.6,"y":-3.8,"c21":1,"c45":3},{"x":0.6,"y":-3.65,"c21":1.3,"c45":3},{"x":1,"y":-3.7,"c21":0.1,"c45":3.8},{"x":1.2,"y":-3.6,"c21":0.1,"c45":3.6},{"x":0.3,"y":-3.5,"c21":0.2,"c45":3.3},
{"x":-0.4,"y":1,"c21":0.5,"c45":1.2},{"x":-0.1,"y":0.6,"c21":0.2,"c45":0.9},{"x":-0.7,"y":0.1,"c21":0.9,"c45":0.3},{"x":-0.6,"y":-0.4,"c21":0,"c45":1.5},{"x":0.4,"y":0.3,"c21":0.6,"c45":3.5},{"x":0.9,"y":-0.7,"c21":0,"c45":3.9},{"x":1.8,"y":-0.9,"c21":0.2,"c45":1.2},{"x":1.4,"y":-1.2,"c21":0,"c45":1.8},{"x":0.9,"y":-1.5,"c21":0.1,"c45":1.1},{"x":-0.4,"y":-1.3,"c21":0.5,"c45":2.4},{"x":0.1,"y":-2.3,"c21":0.3,"c45":1.9},{"x":1.3,"y":-2.3,"c21":0.2,"c45":2},{"x":-1.3,"y":-2.7,"c21":1,"c45":4.4},{"x":-2,"y":-1.5,"c21":3.8,"c45":4.5},{"x":-3,"y":0,"c21":4.5,"c45":2},{"x":-3.5,"y":-1,"c21":4.5,"c45":4.5},{"x":-2.6,"y":1.5,"c21":4.5,"c45":0.6},{"x":-1.7,"y":2.7,"c21":4.5,"c45":0.2},{"x":2,"y":2,"c21":3.2,"c45":2.8},{"x":2.1,"y":0.1,"c21":3.2,"c45":0.1},{"x":1.2,"y":1.6,"c21":0.3,"c45":3},{"x":3,"y":0.3,"c21":2.2,"c45":0.1},{"x":3,"y":1,"c21":1.7,"c45":0.1},{"x":3.7,"y":0.7,"c21":1.6,"c45":1.6},{"x":0.5,"y":2.2,"c21":0.3,"c45":0},{"x":1.3,"y":0.5,"c21":0.1,"c45":0.1},{"x":2.5,"y":-0.3,"c21":1.5,"c45":3.3},{"x":2,"y":-2,"c21":0.2,"c45":4.2},{"x":-1,"y":1.4,"c21":1.8,"c45":0.2},{"x":-2.2,"y":0.3,"c21":2.4,"c45":1.5},{"x":-0.9,"y":-0.8,"c21":0.8,"c45":2},{"x":0.4,"y":1.3,"c21":0.4,"c45":0.2}],
"c2big":[{"x":-2.7,"y":2.6},{"x":-2.2,"y":2.8},{"x":-1.6,"y":2.7},{"x":-1.1,"y":2.5},{"x":-3,"y":2.1},{"x":-2.5,"y":2.2},{"x":-1.9,"y":2.2},{"x":-1.3,"y":2},{"x":-3,"y":1.6},{"x":-2.5,"y":1.7},{"x":-1.9,"y":1.7},{"x":-1.3,"y":1.5},{"x":-2.9,"y":1.2},{"x":-2.4,"y":1.2},{"x":-1.8,"y":1.2},{"x":-1.3,"y":1.1},{"x":-2,"y":0.7},{"x":-2.45,"y":2.45},{"x":-1.9,"y":2.5},{"x":-1.35,"y":2.4},{"x":-2.75,"y":1.9},{"x":-2.2,"y":1.95},{"x":-1.6,"y":1.85},{"x":-1,"y":1.85},{"x":-2.75,"y":1.4},{"x":-2.15,"y":1.45},{"x":-1.6,"y":1.35},{"x":-1.1,"y":1.3},{"x":-2.6,"y":1},{"x":-2.1,"y":1},{"x":-1.55,"y":0.95},{"x":-2.3,"y":0.55},{"x":-1.7,"y":0.6},{"x":-2,"y":0.35},{"x":-1.5,"y":0.5},{"x":-2.3,"y":3.1},{"x":-1.8,"y":3.1},{"x":-1.2,"y":2.9},{"x":-0.7,"y":2.2},{"x":-0.8,"y":2.8}],
"c2":[{"x":-1.8,"y":4.2},{"x":0.3,"y":4.15},{"x":0.75,"y":4.05},{"x":-2.1,"y":3.85},{"x":-1.6,"y":3.85},{"x":-2.5,"y":3.7},{"x":-2.2,"y":3.6},{"x":-1.4,"y":3.65},{"x":-2.85,"y":3.55},{"x":-2.7,"y":3.55},{"x":-0.4,"y":3.65},{"x":-0.25,"y":3.6},{"x":0.05,"y":3.5},{"x":-1,"y":3.45},{"x":-0.6,"y":3.3},{"x":-0.8,"y":3.2},{"x":-0.3,"y":3},{"x":-0.2,"y":2.8},{"x":-0.3,"y":2.7},{"x":-0.5,"y":2.5},{"x":-0.1,"y":2.5},{"x":-0.6,"y":2.2},{"x":-0.3,"y":2.3},{"x":-3.1,"y":3},{"x":-3,"y":2.85},{"x":-3.5,"y":2.65},{"x":-3.65,"y":2.45},{"x":-3.7,"y":2.15},{"x":-3.6,"y":1.8},{"x":-3.6,"y":1.5},{"x":-4.5,"y":1.3},{"x":-3.5,"y":1},{"x":-3.4,"y":0.55},{"x":-3.6,"y":0.45},{"x":-3.1,"y":0.4},{"x":-3.5,"y":0.05},{"x":-3.1,"y":-0.05},{"x":-2.8,"y":-0.1},{"x":-2.5,"y":0.5},{"x":-2.7,"y":0.1},{"x":-2.3,"y":0.3},{"x":-2.2,"y":0},{"x":-1.9,"y":-0.2},{"x":-1.7,"y":0.2},{"x":-1.4,"y":0.4},{"x":-1.2,"y":0},{"x":-1,"y":0.2},{"x":-0.9,"y":0.5},{"x":-1.1,"y":0.7},{"x":-0.9,"y":0.85},{"x":-0.3,"y":0.4},{"x":-0.6,"y":0.9},{"x":-0.7,"y":1.3},{"x":-0.4,"y":1.4},{"x":-0.2,"y":1.15},{"x":-0.7,"y":1.7},{"x":-0.4,"y":1.8},{"x":-1.5,"y":-0.6},{"x":-2.3,"y":-0.7},{"x":-1.9,"y":-0.8},{"x":-1.5,"y":-0.9},{"x":-2,"y":-1},{"x":-2.3,"y":-0.9},{"x":-2.6,"y":-0.9},{"x":-2.9,"y":-0.95},{"x":-3.2,"y":-1},{"x":-3.15,"y":-1.15},{"x":-2.9,"y":-1.6},{"x":-1.8,"y":-0.7},{"x":-2.4,"y":0.4}],
"c6big":[{"x":-4,"y":-0.9},{"x":-3.5,"y":-0.5},{"x":-3,"y":-0.2},{"x":-3.5,"y":0.2},{"x":-3.1,"y":0.5},{"x":-3.9,"y":-0.3},{"x":-3.4,"y":-1},{"x":-2.8,"y":-0.8},{"x":-3.9,"y":-1.4},{"x":-3.4,"y":-1.5},{"x":-2.9,"y":-1.3},{"x":-2.4,"y":-1.2},{"x":-2.5,"y":-0.4},{"x":-3.5,"y":-2},{"x":-3,"y":-1.9},{"x":-2.5,"y":-1.8},{"x":-2.8,"y":-2.4},{"x":-2.1,"y":-2.1},{"x":-2.3,"y":-0.8},{"x":-3.1,"y":0.9},{"x":-3.7,"y":-0.7},{"x":-3.2,"y":-0.75},{"x":-2.7,"y":-0.5},{"x":-3.7,"y":-0.1},{"x":-3.2,"y":0.1},{"x":-2.8,"y":0.2},{"x":-4.2,"y":-1.1},{"x":-3.7,"y":-1.2},{"x":-3.15,"y":-1.15},{"x":-2.65,"y":-1.05},{"x":-2.1,"y":-0.9},{"x":-3.7,"y":-1.7},{"x":-3.2,"y":-1.7},{"x":-2.7,"y":-1.55},{"x":-2.2,"y":-1.5},{"x":-3.3,"y":-2.3},{"x":-2.5,"y":-2.2},{"x":-2.1,"y":-1.7},{"x":-3.4,"y":0.7},{"x":-2.7,"y":0.7}],
"c6":[{"x":-5.35,"y":-0.3},{"x":-5.2,"y":-0.38},{"x":-4.9,"y":-0.38},{"x":-4.95,"y":-0.7},{"x":-5,"y":-0.95},{"x":-4.85,"y":-1.05},{"x":-4.9,"y":-1.55},{"x":-4.7,"y":-1.65},{"x":-4.4,"y":-2},{"x":-4.1,"y":-2.35},{"x":-4,"y":-2.5},{"x":-3.6,"y":-2.95},{"x":-3.4,"y":-3.1},{"x":-3.05,"y":-3.1},{"x":-2.95,"y":-3.35},{"x":-2.45,"y":-3.45},{"x":-2.1,"y":-3.2},{"x":-1.8,"y":-3.3},{"x":-2.3,"y":-3.1},{"x":-1.9,"y":-2.9},{"x":-1.5,"y":-2.8},{"x":-1.6,"y":-2.4},{"x":-1.4,"y":-2.3},{"x":-1.6,"y":-2},{"x":-1.2,"y":-1.7},{"x":-1.5,"y":-1.5},{"x":-1.1,"y":-1.4},{"x":-0.8,"y":-1.4},{"x":-1.8,"y":-1.2},{"x":-1.4,"y":-1},{"x":-0.9,"y":-0.9},{"x":-1.7,"y":-0.6},{"x":-1.3,"y":-0.5},{"x":-1.9,"y":-0.1},{"x":-1.5,"y":-0.1},{"x":-1.2,"y":-0.2},{"x":-2.4,"y":0.1},{"x":-2,"y":0.3},{"x":-2.5,"y":0.5},{"x":-2.2,"y":0.6},{"x":-2.6,"y":0.9},{"x":-2.8,"y":1.2},{"x":-3.4,"y":1.4},{"x":-3.2,"y":1.3},{"x":-3,"y":1.45},{"x":-3.6,"y":0.8},{"x":-3.7,"y":0.6},{"x":-4,"y":0.3},{"x":-4.3,"y":0},{"x":-4.5,"y":-0.5},{"x":-4.6,"y":-0.9},{"x":-4.5,"y":-1.4},{"x":-4.3,"y":-1.7},{"x":-4.1,"y":-1.9},{"x":-3.8,"y":-2.4},{"x":-3.5,"y":-2.6},{"x":-3.2,"y":-2.5},{"x":-3,"y":-2.8},{"x":-2.4,"y":-2.7},{"x":-2,"y":-2.5},{"x":-1.9,"y":-1.6},{"x":-2,"y":-1.3},{"x":-0.7,"y":-1.9},{"x":-0.9,"y":-2.2},{"x":-1.1,"y":-2.6},{"x":-1.3,"y":-3.1},{"x":-1.7,"y":-3.6},{"x":-1.5,"y":-3.55},{"x":-1,"y":-2.9}]},
"bounds":"flush","spacing":1519,
"hconcat":[{"bounds":"flush","spacing":760,"hconcat":[
{"bounds":"flush","spacing":123,"vconcat":[
{"title":"Cluster 2 vs Other Cells in Physical Space","width":470,"height":427,
"encoding":{"x":{"field":"x","type":"quantitative","scale":{"domain":[2298,6703],"nice":false,"zero":false},"axis":{"title":"x alignment","titlePadding":8,"values":[2500,3000,3500,4000,4500,5000,5500,6000,6500],"labelExpr":"datum.value%1000==0?''+datum.value:''","gridWidth":{"condition":{"test":"datum.value%1000==0","value":2.6},"value":1.3},"tickOpacity":{"condition":{"test":"datum.value%1000==0","value":1},"value":0}}},"y":{"field":"y","type":"quantitative","scale":{"domain":[-9195,-4805],"nice":false,"zero":false},"axis":{"title":"y alignment","titlePadding":9,"values":[-9000,-8500,-8000,-7500,-7000,-6500,-6000,-5500,-5000],"labelExpr":"datum.value%1000==0?''+datum.value:''","gridWidth":{"condition":{"test":"datum.value%1000==0","value":2.6},"value":1.3},"tickOpacity":{"condition":{"test":"datum.value%1000==0","value":1},"value":0}}}},
"layer":[{"data":{"name":"phys"},"mark":{"type":"circle","size":640,"opacity":1},"encoding":{"color":{"datum":"Other Cells","scale":{"domain":["Cluster 2","Other Cells"],"range":["#00ff00","#bebebe"]},"legend":{"title":"highlight1","orient":"none","legendX":507,"legendY":161,"symbolSize":95,"symbolType":"circle","symbolOpacity":1,"rowPadding":9,"titlePadding":11,"encode":{"entries":{"update":{"fill":{"value":{"gradient":"linear","x1":0,"x2":1,"y1":0,"y2":0,"stops":[{"offset":0,"color":"#ebebeb"},{"offset":0.26,"color":"#ebebeb"},{"offset":0.26,"color":"#ffffff"},{"offset":1,"color":"#ffffff"}]}},"height":{"value":38}}},"symbols":{"update":{"x":{"value":19},"y":{"value":19}}},"labels":{"update":{"x":{"value":50},"y":{"value":19}}}}}}}},{"data":{"name":"g2big"},"mark":{"type":"circle","size":200,"opacity":1},"encoding":{"color":{"datum":"Cluster 2"}}},{"data":{"name":"g2"},"mark":{"type":"circle","size":95,"opacity":1},"encoding":{"color":{"datum":"Cluster 2"}}}]},
{"title":"Cluster 2 vs Other Cells in Physical Space","width":470,"height":428,
"encoding":{"x":{"field":"x","type":"quantitative","scale":{"domain":[2298,6703],"nice":false,"zero":false},"axis":{"title":"x alignment","titlePadding":8,"values":[2500,3000,3500,4000,4500,5000,5500,6000,6500],"labelExpr":"datum.value%1000==0?''+datum.value:''","gridWidth":{"condition":{"test":"datum.value%1000==0","value":2.6},"value":1.3},"tickOpacity":{"condition":{"test":"datum.value%1000==0","value":1},"value":0}}},"y":{"field":"y","type":"quantitative","scale":{"domain":[-9195,-4805],"nice":false,"zero":false},"axis":{"title":"y alignment","titlePadding":9,"values":[-9000,-8500,-8000,-7500,-7000,-6500,-6000,-5500,-5000],"labelExpr":"datum.value%1000==0?''+datum.value:''","gridWidth":{"condition":{"test":"datum.value%1000==0","value":2.6},"value":1.3},"tickOpacity":{"condition":{"test":"datum.value%1000==0","value":1},"value":0}}}},
"layer":[{"data":{"name":"phys"},"mark":{"type":"circle","size":640,"opacity":1},"encoding":{"color":{"datum":"Other Cells","scale":{"domain":["Cluster 6","Other Cells"],"range":["#ffa500","#bebebe"]},"legend":{"title":"highlight2","orient":"none","legendX":507,"legendY":162,"symbolSize":95,"symbolType":"circle","symbolOpacity":1,"rowPadding":9,"titlePadding":11,"encode":{"entries":{"update":{"fill":{"value":{"gradient":"linear","x1":0,"x2":1,"y1":0,"y2":0,"stops":[{"offset":0,"color":"#ebebeb"},{"offset":0.26,"color":"#ebebeb"},{"offset":0.26,"color":"#ffffff"},{"offset":1,"color":"#ffffff"}]}},"height":{"value":38}}},"symbols":{"update":{"x":{"value":19},"y":{"value":19}}},"labels":{"update":{"x":{"value":50},"y":{"value":19}}}}}}}},{"data":{"name":"g6big"},"mark":{"type":"circle","size":200,"opacity":1},"encoding":{"color":{"datum":"Cluster 6"}}},{"data":{"name":"g6"},"mark":{"type":"circle","size":95,"opacity":1},"encoding":{"color":{"datum":"Cluster 6"}}}]}],"resolve":{"scale":{"color":"independent"}}},
{"bounds":"flush","spacing":123,"vconcat":[
{"title":"Cluster 2 vs other cells in reduced dimension (PC) space","width":467,"height":427,
"encoding":{"x":{"field":"x","type":"quantitative","scale":{"domain":[-5.9,6.02],"nice":false,"zero":false},"axis":{"title":"PC1","titlePadding":8,"values":[-4.5,-3,-1.5,0,1.5,3,4.5,6],"labelExpr":"datum.value%3==0?''+datum.value:''","gridWidth":{"condition":{"test":"datum.value%3==0","value":2.6},"value":1.3},"tickOpacity":{"condition":{"test":"datum.value%3==0","value":1},"value":0}}},"y":{"field":"y","type":"quantitative","scale":{"domain":[-4.94,4.67],"nice":false,"zero":false},"axis":{"title":"PC2","titlePadding":9,"values":[-3.75,-2.5,-1.25,0,1.25,2.5,3.75],"labelExpr":"datum.value%2.5==0?replace(format(datum.value,'.1f'),'−','-'):''","gridWidth":{"condition":{"test":"datum.value%2.5==0","value":2.6},"value":1.3},"tickOpacity":{"condition":{"test":"datum.value%2.5==0","value":1},"value":0}}}},
"layer":[{"data":{"name":"pc"},"mark":{"type":"circle","size":640,"opacity":1},"encoding":{"color":{"datum":"Other Cells","scale":{"domain":["Cluster 2","Other Cells"],"range":["#00ff00","#bebebe"]},"legend":{"title":"highlight1","orient":"none","legendX":505,"legendY":161,"symbolSize":95,"symbolType":"circle","symbolOpacity":1,"rowPadding":9,"titlePadding":11,"encode":{"entries":{"update":{"fill":{"value":{"gradient":"linear","x1":0,"x2":1,"y1":0,"y2":0,"stops":[{"offset":0,"color":"#ebebeb"},{"offset":0.26,"color":"#ebebeb"},{"offset":0.26,"color":"#ffffff"},{"offset":1,"color":"#ffffff"}]}},"height":{"value":38}}},"symbols":{"update":{"x":{"value":19},"y":{"value":19}}},"labels":{"update":{"x":{"value":50},"y":{"value":19}}}}}}}},{"data":{"name":"pcs"},"mark":{"type":"circle","size":95,"opacity":1},"encoding":{"color":{"datum":"Other Cells"}}},{"data":{"name":"c2big"},"mark":{"type":"circle","size":640,"opacity":1},"encoding":{"color":{"datum":"Cluster 2"}}},{"data":{"name":"c2"},"mark":{"type":"circle","size":95,"opacity":1},"encoding":{"color":{"datum":"Cluster 2"}}}]},
{"title":"Cluster 6 vs other cells in reduced dimension (PC) space","width":467,"height":428,
"encoding":{"x":{"field":"x","type":"quantitative","scale":{"domain":[-5.9,6.02],"nice":false,"zero":false},"axis":{"title":"PC1","titlePadding":8,"values":[-4.5,-3,-1.5,0,1.5,3,4.5,6],"labelExpr":"datum.value%3==0?''+datum.value:''","gridWidth":{"condition":{"test":"datum.value%3==0","value":2.6},"value":1.3},"tickOpacity":{"condition":{"test":"datum.value%3==0","value":1},"value":0}}},"y":{"field":"y","type":"quantitative","scale":{"domain":[-4.94,4.67],"nice":false,"zero":false},"axis":{"title":"PC2","titlePadding":9,"values":[-3.75,-2.5,-1.25,0,1.25,2.5,3.75],"labelExpr":"datum.value%2.5==0?replace(format(datum.value,'.1f'),'−','-'):''","gridWidth":{"condition":{"test":"datum.value%2.5==0","value":2.6},"value":1.3},"tickOpacity":{"condition":{"test":"datum.value%2.5==0","value":1},"value":0}}}},
"layer":[{"data":{"name":"pc"},"mark":{"type":"circle","size":640,"opacity":1},"encoding":{"color":{"datum":"Other Cells","scale":{"domain":["Cluster 6","Other Cells"],"range":["#ffa500","#bebebe"]},"legend":{"title":"highlight2","orient":"none","legendX":505,"legendY":162,"symbolSize":95,"symbolType":"circle","symbolOpacity":1,"rowPadding":9,"titlePadding":11,"encode":{"entries":{"update":{"fill":{"value":{"gradient":"linear","x1":0,"x2":1,"y1":0,"y2":0,"stops":[{"offset":0,"color":"#ebebeb"},{"offset":0.26,"color":"#ebebeb"},{"offset":0.26,"color":"#ffffff"},{"offset":1,"color":"#ffffff"}]}},"height":{"value":38}}},"symbols":{"update":{"x":{"value":19},"y":{"value":19}}},"labels":{"update":{"x":{"value":50},"y":{"value":19}}}}}}}},{"data":{"name":"pcs"},"mark":{"type":"circle","size":95,"opacity":1},"encoding":{"color":{"datum":"Other Cells"}}},{"data":{"name":"c6big"},"mark":{"type":"circle","size":640,"opacity":1},"encoding":{"color":{"datum":"Cluster 6"}}},{"data":{"name":"c6"},"mark":{"type":"circle","size":95,"opacity":1},"encoding":{"color":{"datum":"Cluster 6"}}}]}],"resolve":{"scale":{"color":"independent"}}}],"resolve":{"scale":{"color":"independent"}}},
{"bounds":"flush","spacing":123,"vconcat":[
{"title":"CD21 Expression in PCA Space","width":467,"height":427,
"encoding":{"x":{"field":"x","type":"quantitative","scale":{"domain":[-5.9,6.02],"nice":false,"zero":false},"axis":{"title":"PC1","titlePadding":8,"values":[-4.5,-3,-1.5,0,1.5,3,4.5,6],"labelExpr":"datum.value%3==0?''+datum.value:''","gridWidth":{"condition":{"test":"datum.value%3==0","value":2.6},"value":1.3},"tickOpacity":{"condition":{"test":"datum.value%3==0","value":1},"value":0}}},"y":{"field":"y","type":"quantitative","scale":{"domain":[-4.94,4.67],"nice":false,"zero":false},"axis":{"title":"PC2","titlePadding":9,"values":[-3.75,-2.5,-1.25,0,1.25,2.5,3.75],"labelExpr":"datum.value%2.5==0?replace(format(datum.value,'.1f'),'−','-'):''","gridWidth":{"condition":{"test":"datum.value%2.5==0","value":2.6},"value":1.3},"tickOpacity":{"condition":{"test":"datum.value%2.5==0","value":1},"value":0}}},"color":{"type":"quantitative","field":"c21","scale":{"domain":[0,4.56],"range":["#0000ff","#ff0000"],"interpolate":"lab"},"legend":{"title":"CD21 Expression","orient":"none","legendX":524,"legendY":106,"direction":"vertical","gradientLength":189,"gradientThickness":38,"values":[0,1,2,3,4],"labelOffset":10,"titlePadding":7}}},
"layer":[{"data":{"name":"pc"},"mark":{"type":"circle","size":640,"opacity":1}},{"data":{"name":"pcs"},"mark":{"type":"circle","size":95,"opacity":1}}]},
{"title":"CD45RO Expression in PCA Space","width":467,"height":428,
"encoding":{"x":{"field":"x","type":"quantitative","scale":{"domain":[-5.9,6.02],"nice":false,"zero":false},"axis":{"title":"PC1","titlePadding":8,"values":[-4.5,-3,-1.5,0,1.5,3,4.5,6],"labelExpr":"datum.value%3==0?''+datum.value:''","gridWidth":{"condition":{"test":"datum.value%3==0","value":2.6},"value":1.3},"tickOpacity":{"condition":{"test":"datum.value%3==0","value":1},"value":0}}},"y":{"field":"y","type":"quantitative","scale":{"domain":[-4.94,4.67],"nice":false,"zero":false},"axis":{"title":"PC2","titlePadding":9,"values":[-3.75,-2.5,-1.25,0,1.25,2.5,3.75],"labelExpr":"datum.value%2.5==0?replace(format(datum.value,'.1f'),'−','-'):''","gridWidth":{"condition":{"test":"datum.value%2.5==0","value":2.6},"value":1.3},"tickOpacity":{"condition":{"test":"datum.value%2.5==0","value":1},"value":0}}},"color":{"type":"quantitative","field":"c45","scale":{"domain":[0,4.58],"range":["#0000ff","#ff0000"],"interpolate":"lab"},"legend":{"title":"CD45RO Expression","orient":"none","legendX":506,"legendY":106,"direction":"vertical","gradientLength":189,"gradientThickness":38,"values":[0,1,2,3,4],"labelOffset":10,"titlePadding":7}}},
"layer":[{"data":{"name":"pc"},"mark":{"type":"circle","size":640,"opacity":1}},{"data":{"name":"pcs"},"mark":{"type":"circle","size":95,"opacity":1}}]}],"resolve":{"scale":{"color":"independent"}}}],
"resolve":{"scale":{"color":"independent"}}}
